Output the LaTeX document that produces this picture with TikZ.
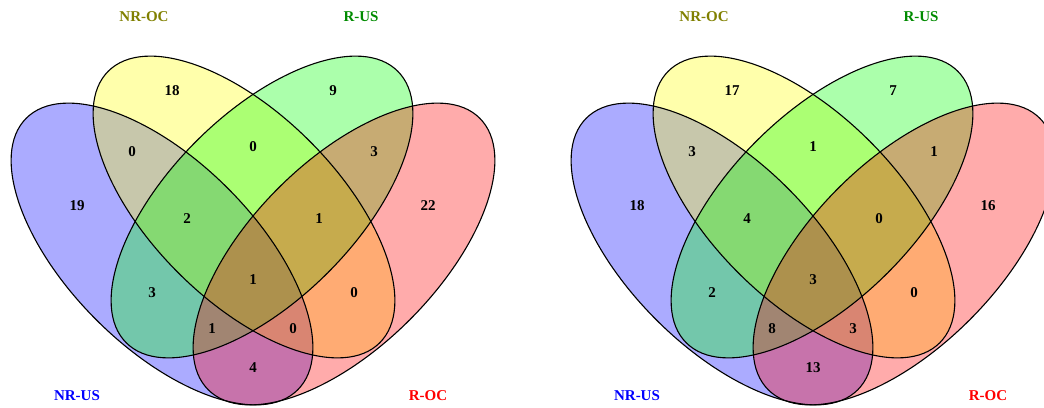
\documentclass[tikz,border=0pt]{standalone}
\usepackage{fontspec}
\setmainfont{Liberation Serif}
\definecolor{labolive}{RGB}{128,128,0}
\definecolor{labgreen}{RGB}{0,139,0}
\definecolor{vblue}{RGB}{0,0,255}
\definecolor{vyellow}{RGB}{255,255,0}
\definecolor{vgreen}{RGB}{0,255,0}
\definecolor{vred}{RGB}{255,0,0}
\tikzset{
  vfill/.style={fill opacity=0.33, draw=none},
  vline/.style={draw=black, line width=1.1pt, fill=none},
  num/.style={font=\fontsize{15}{18}\selectfont\bfseries, inner sep=0pt},
  setlab/.style={font=\fontsize{15}{18}\selectfont\bfseries, inner sep=0pt},
  ebl/.style={rotate around={-45:(162,254)}},
  eye/.style={rotate around={-45:(244,207)}},
  egr/.style={rotate around={45:(262,207)}},
  ere/.style={rotate around={45:(344,254)}},
}
\newcommand{\vennshapes}{%
  \path[vfill, fill=vblue, ebl] (162,254) ellipse [x radius=192pt, y radius=93pt];
  \path[vfill, fill=vyellow, eye] (244,207) ellipse [x radius=192pt, y radius=93pt];
  \path[vfill, fill=vgreen, egr] (262,207) ellipse [x radius=192pt, y radius=93pt];
  \path[vfill, fill=vred, ere] (344,254) ellipse [x radius=192pt, y radius=93pt];
  \draw[vline, ebl] (162,254) ellipse [x radius=192pt, y radius=93pt];
  \draw[vline, eye] (244,207) ellipse [x radius=192pt, y radius=93pt];
  \draw[vline, egr] (262,207) ellipse [x radius=192pt, y radius=93pt];
  \draw[vline, ere] (344,254) ellipse [x radius=192pt, y radius=93pt];
}
\begin{document}
\begin{tikzpicture}[x=1pt,y=-1pt]
\useasboundingbox (0,0) rectangle (1044,407);
% ---------- left diagram ----------
\begin{scope}
  \vennshapes
  \node[setlab, text=labolive] (L-nroc) at (144,17) {NR-OC};
  \node[setlab, text=labgreen] (L-rus) at (361,17) {R-US};
  \node[setlab, text=vblue] (L-nrus) at (77,396) {NR-US};
  \node[setlab, text=vred] (L-roc) at (428,396) {R-OC};
  \node[num] (L-y) at (172,91) {18};
  \node[num] (L-g) at (333,91) {9};
  \node[num] (L-by) at (132,152) {0};
  \node[num] (L-yg) at (253,147) {0};
  \node[num] (L-gr) at (374,152) {3};
  \node[num] (L-b) at (77,206) {19};
  \node[num] (L-byg) at (187,219) {2};
  \node[num] (L-ygr) at (319,219) {1};
  \node[num] (L-r) at (428,206) {22};
  \node[num] (L-all) at (253,280) {1};
  \node[num] (L-bg) at (152,293) {3};
  \node[num] (L-yr) at (354,293) {0};
  \node[num] (L-bgr) at (212,329) {1};
  \node[num] (L-byr) at (293,329) {0};
  \node[num] (L-br) at (253,368) {4};
\end{scope}
% ---------- right diagram ----------
\begin{scope}[xshift=560pt]
  \vennshapes
  \node[setlab, text=labolive] (R-nroc) at (144,17) {NR-OC};
  \node[setlab, text=labgreen] (R-rus) at (361,17) {R-US};
  \node[setlab, text=vblue] (R-nrus) at (77,396) {NR-US};
  \node[setlab, text=vred] (R-roc) at (428,396) {R-OC};
  \node[num] (R-y) at (172,91) {17};
  \node[num] (R-g) at (333,91) {7};
  \node[num] (R-by) at (132,152) {3};
  \node[num] (R-yg) at (253,147) {1};
  \node[num] (R-gr) at (374,152) {1};
  \node[num] (R-b) at (77,206) {18};
  \node[num] (R-byg) at (187,219) {4};
  \node[num] (R-ygr) at (319,219) {0};
  \node[num] (R-r) at (428,206) {16};
  \node[num] (R-all) at (253,280) {3};
  \node[num] (R-bg) at (152,293) {2};
  \node[num] (R-yr) at (354,293) {0};
  \node[num] (R-bgr) at (212,329) {8};
  \node[num] (R-byr) at (293,329) {3};
  \node[num] (R-br) at (253,368) {13};
\end{scope}
\end{tikzpicture}
\end{document}
